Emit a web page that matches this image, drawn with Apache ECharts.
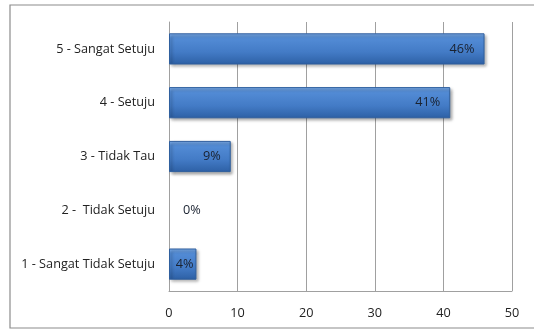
<!DOCTYPE html>
<html>
<head>
<meta charset="utf-8">
<script src="https://cdn.jsdelivr.net/npm/echarts@6/dist/echarts.min.js"></script>
<style>
  html, body { margin: 0; padding: 0; background: #fff; }
  #chart { width: 534px; height: 329px; }
</style>
</head>
<body>
<div id="chart"></div>
<script>
// categories top to bottom
var categories = ['5 - Sangat Setuju', '4 - Setuju', '3 - Tidak Tau', '2 -  Tidak Setuju', '1 - Sangat Tidak Setuju']
var percentValues = [46, 41, 9, 0, 4]
var xTicks = [0, 10, 20, 30, 40, 50]

var fontName = '"Open Sans", "Liberation Sans", sans-serif'

var chart = echarts.init(document.getElementById('chart'))

// zero bar: no visible bar, label sits outside; tiny bar: label centred
var seriesData = percentValues.map(function (v) {
  if (v === 0) {
    return {
      value: v,
      itemStyle: {
        color: 'rgba(0,0,0,0)',
        borderColor: 'rgba(0,0,0,0)',
        borderWidth: 0,
        shadowColor: 'rgba(0,0,0,0)'
      },
      label: { position: 'right', offset: [4, 0] }
    }
  }
  if (v < 5) {
    return { value: v, label: { position: 'inside', offset: [2, 0] } }
  }
  return v
})

chart.setOption({
  animation: false,
  graphic: [{
    type: 'rect',
    shape: { x: 10, y: 5, width: 540, height: 323 },
    style: { fill: 'none', stroke: '#8c8c8c', lineWidth: 1.2 },
    silent: true
  }],
  grid: {
    left: 169,
    right: 22,
    top: 22,
    bottom: 38
  },
  xAxis: {
    type: 'value',
    min: xTicks[0],
    max: xTicks[xTicks.length - 1],
    interval: 10,
    axisLine: { show: true, lineStyle: { color: '#a0a0a0' } },
    axisTick: { show: false },
    axisLabel: {
      color: '#222',
      fontSize: 12.7,
      fontFamily: fontName,
      margin: 16
    },
    splitLine: { show: true, lineStyle: { color: '#a0a0a0', width: 1 } }
  },
  yAxis: {
    type: 'category',
    inverse: true,
    data: categories,
    axisLine: { show: true, lineStyle: { color: '#a0a0a0' } },
    axisTick: { show: false },
    axisLabel: {
      color: '#222',
      fontSize: 12.7,
      fontFamily: fontName,
      margin: 14
    }
  },
  series: [{
    type: 'bar',
    data: seriesData,
    barWidth: '58%',
    itemStyle: {
      color: new echarts.graphic.LinearGradient(0, 0, 0, 1, [
        { offset: 0, color: '#80b0ec' },
        { offset: 0.15, color: '#538cd6' },
        { offset: 0.6, color: '#437bc6' },
        { offset: 1, color: '#2d60a5' }
      ]),
      borderColor: '#2f5f9e',
      borderWidth: 1,
      shadowColor: 'rgba(0,0,0,0.35)',
      shadowBlur: 3,
      shadowOffsetX: 2,
      shadowOffsetY: 2
    },
    label: {
      show: true,
      position: 'insideRight',
      distance: 10,
      formatter: '{c}%',
      color: '#1a2230',
      fontSize: 12.7,
      fontFamily: fontName
    }
  }]
})
</script>
</body>
</html>
